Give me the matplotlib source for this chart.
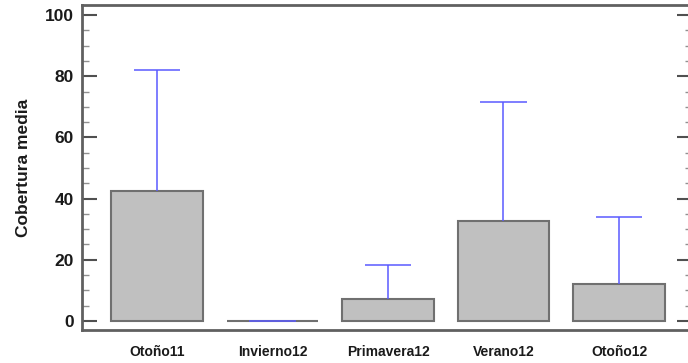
import matplotlib
matplotlib.use("Agg")
import matplotlib.pyplot as plt
from matplotlib.ticker import MultipleLocator

categories = ["Otoño11", "Invierno12", "Primavera12", "Verano12", "Otoño12"]
means = [42.5, 0.0, 7.3, 32.7, 12.0]
upper = [82.0, 0.0, 18.4, 71.5, 34.0]
yticks = [0, 20, 40, 60, 80, 100]

plt.rcParams['font.family'] = ['Liberation Sans', 'DejaVu Sans']

fig = plt.figure(figsize=(6.88, 3.63), dpi=100)
ax = fig.add_axes([82/688, 33/363, (692-82)/688, (330-5)/363])

x = list(range(len(categories)))
ax.bar(x, means, width=0.79, color='#c0c0c0', edgecolor='#707070', linewidth=1.5, zorder=2)
ax.vlines(x, means, upper, color='#5a5aff', linewidth=1.1, zorder=3)
cap = 0.2
ax.hlines(upper, [xi - cap for xi in x], [xi + cap for xi in x], color='#5a5aff',
          linewidth=1.1, zorder=3)

ax.set_xlim(-0.649, 4.632)
ax.set_ylim(-3.0, 103.3)
ax.set_xticks(x)
ax.set_xticklabels(categories, fontsize=10, fontweight='bold', color='#1a1a1a')
ax.set_yticks(yticks)
ax.set_yticklabels([str(v) for v in yticks], fontsize=12.5, fontweight='bold', color='#1a1a1a')
ax.yaxis.set_minor_locator(MultipleLocator(5))
ax.tick_params(axis='x', length=0, pad=11)
ax.tick_params(axis='y', which='major', direction='in', length=11, width=1.5, color='#505050',
               right=True, pad=6)
ax.tick_params(axis='y', which='minor', direction='in', length=5, width=1.0, color='#909090',
               right=True)
ax.set_ylabel("Cobertura media", fontsize=12.5, fontweight='bold', color='#1a1a1a', labelpad=10)

for s in ax.spines.values():
    s.set_color('#606060')
    s.set_linewidth(2)

fig.savefig("out.png", dpi=100)
